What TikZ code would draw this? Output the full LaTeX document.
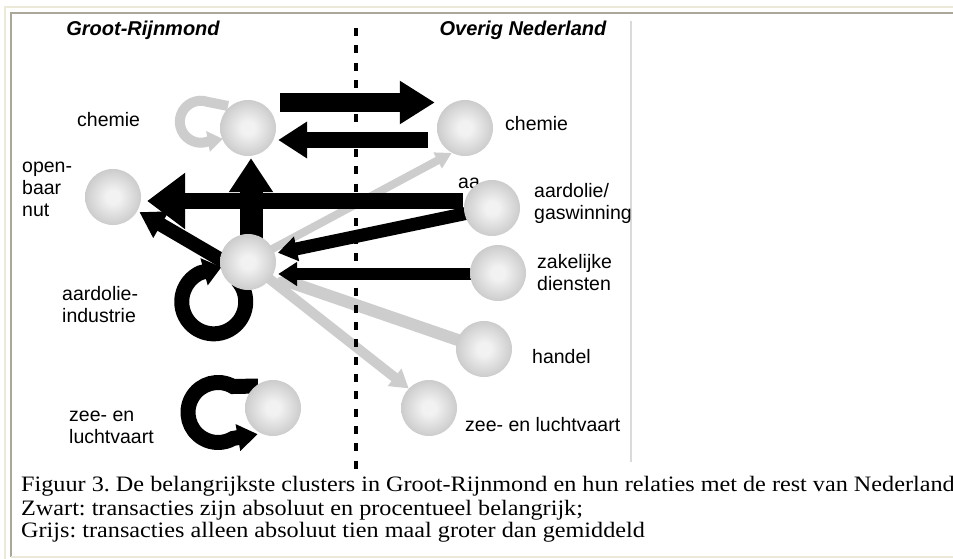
\documentclass[tikz,border=0pt]{standalone}
\usepackage{fontspec}
\usepackage{graphicx}
\setmainfont{Liberation Serif}
\newfontfamily\arialf{Liberation Sans}
\usetikzlibrary{arrows.meta}
\pgfdeclarelayer{bg}
\pgfsetlayers{bg,main}
\definecolor{sphc}{RGB}{242,242,242}
\definecolor{sphm}{RGB}{198,198,198}
\definecolor{sphe}{RGB}{138,138,138}
\definecolor{lgray}{RGB}{205,205,205}
\definecolor{frameA}{RGB}{236,233,216}
\definecolor{frameB}{RGB}{172,168,153}
\definecolor{sepline}{RGB}{218,218,218}
\pgfdeclareradialshading{sphereshade}{\pgfpoint{0bp}{0bp}}{color(0bp)=(sphc); color(6bp)=(sphc); color(28bp)=(sphm); color(50bp)=(sphe); color(100bp)=(sphe)}
\frenchspacing
\begin{document}
\begin{tikzpicture}[x=1pt,y=1pt,
  sph/.style={circle,minimum size=56pt,inner sep=0pt,shading=sphereshade},
  lab/.style={font=\arialf\fontsize{19.5}{22}\selectfont,inner sep=0pt,align=left},
  hdr/.style={font=\arialf\bfseries\itshape\fontsize{20}{22}\selectfont,inner sep=0pt},
  captxt/.style={font=\fontsize{22}{24}\selectfont\frenchspacing,inner sep=0pt,anchor=base west},
  fat/.style n args={4}{draw=#1,line width=#2,line join=miter,-{Triangle[width=#3,length=#4]}}
]
\useasboundingbox (0,0) rectangle (953,-559);
% spheres
\node[sph] (gchem) at (248,-128) {};
\node[sph] (onut)  at (113,-197) {};
\node[sph] (gaard) at (248,-262) {};
\node[sph] (gzee)  at (273,-408) {};
\node[sph] (ochem) at (465,-128) {};
\node[sph] (ogas)  at (492,-208) {};
\node[sph] (ozak)  at (498,-273) {};
\node[sph] (ohan)  at (484,-349) {};
\node[sph] (ozee)  at (429,-408) {};
% headers
\node[hdr] (h1) at (143,-30) {Groot-Rijnmond};
\node[hdr] (h2) at (523,-30) {Overig Nederland};
% labels
\node[lab,anchor=west] (l1) at (77,-120) {chemie};
\node[lab,anchor=west] (l2) at (22,-189) {open-\\baar\\nut};
\node[lab,anchor=west] (l3) at (62,-305) {aardolie-\\industrie};
\node[lab,anchor=west] (l4) at (69,-427) {zee- en\\luchtvaart};
\node[lab,anchor=west] (l5) at (505,-124) {chemie};
\node[lab,anchor=west] (l6) at (534,-203) {aardolie/\\gaswinning};
\node[lab,anchor=west] (l7) at (537,-273) {zakelijke\\diensten};
\node[lab,anchor=west] (l8) at (532,-357) {handel};
\node[lab,anchor=west] (l9) at (465,-425) {zee- en luchtvaart};
% caption
\node[captxt] (c1) at (21,-491) {\scalebox{1.1}[1]{Figuur 3. De belangrijkste clusters in Groot-Rijnmond en hun relaties met de rest van Nederland}};
\node[captxt] (c2) at (21,-515) {\scalebox{1.1}[1]{Zwart: transacties zijn absoluut en procentueel belangrijk;}};
\node[captxt] (c3) at (21,-537) {\scalebox{1.1}[1]{Grijs: transacties alleen absoluut tien maal groter dan gemiddeld}};
\begin{pgfonlayer}{bg}
\fill[white] (0,0) rectangle (953,-559);
\draw[frameA,line width=2pt] (5,-566) -- (5,-7) -- (960,-7);
\draw[frameB,line width=1.5pt] (960,-13) -- (11,-13) -- (11,-557);
\draw[frameA,line width=1.5pt] (11,-557) -- (960,-557);
\draw[sepline,line width=1.5pt] (631,-21) -- (631,-462);
\node[lab,anchor=west] (aa) at (458,-183) {aa};
% gray connectors
\draw[fat={lgray}{8pt}{17pt}{16pt}] (gaard.center) -- (ochem.242);
\draw[fat={lgray}{12pt}{22pt}{16pt}] (ohan.center) -- ([shift={(4pt,-3pt)}]gaard.-27);
\draw[fat={lgray}{10pt}{21pt}{18pt}] (gaard.center) -- (ozee.136);
\draw[fat={lgray}{10pt}{20pt}{15pt}] ([shift={(-20pt,22pt)}]gchem.center) -- ++(-20pt,4pt) arc[start angle=70,end angle=290,radius=21pt] -- ++(10:15pt);
% dotted separator
\draw[line width=4pt,dash pattern=on 8pt off 9.3pt] (356,-28) -- (356,-476);
% black connectors
\draw[fat={black}{19pt}{41pt}{35pt}] ([xshift=4pt,yshift=25.5pt]gchem.east) -- ([xshift=-2pt,yshift=25.5pt]ochem.west);
\draw[fat={black}{16pt}{35pt}{29pt}] ([xshift=-9pt,yshift=-12pt]ochem.west) -- ([xshift=2pt,yshift=-12pt]gchem.east);
\draw[fat={black}{16pt}{54pt}{38pt}] ([xshift=-1pt,yshift=7pt]ogas.west) -- ([xshift=6pt,yshift=-4pt]onut.east);
\draw[fat={black}{23pt}{42pt}{34pt}] ([xshift=3pt]gaard.center) -- ([xshift=3pt,yshift=-2pt]gchem.south);
\draw[fat={black}{14pt}{29pt}{25pt}] ([xshift=5pt]gaard.west) -- ([shift={(2pt,-1pt)}]onut.-30);
\draw[fat={black}{13pt}{24pt}{19pt}] (ogas.center) -- ([shift={(3pt,1pt)}]gaard.17);
\draw[fat={black}{12pt}{23pt}{19pt}] ([yshift=-1pt]ozak.center) -- ([xshift=2pt,yshift=-12pt]gaard.east);
\draw[fat={black}{15pt}{27pt}{18pt}] ([shift={(-10.5pt,-18.4pt)}]gaard.center) arc[start angle=42,end angle=-245,radius=32pt] -- ++(15:22pt);
\draw[fat={black}{15pt}{26pt}{20pt}] ([shift={(-15pt,22pt)}]gzee.center) -- ++(-25pt,-0.5pt) arc[start angle=60,end angle=300,radius=30pt] -- ++(10:25pt);
\end{pgfonlayer}
\end{tikzpicture}
\end{document}
